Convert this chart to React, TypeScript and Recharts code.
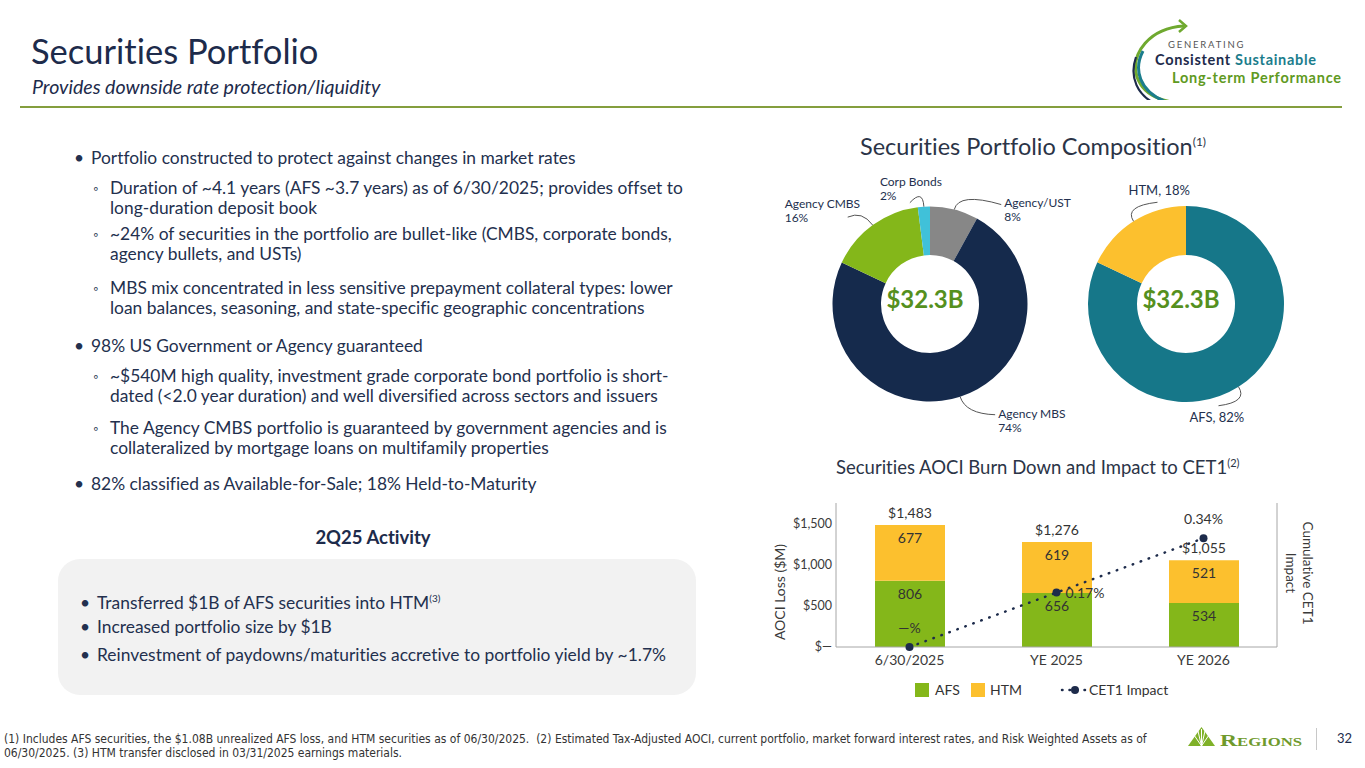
import React from 'react';
import { PieChart, Pie, Cell, Label, ComposedChart, Bar, Line, XAxis, YAxis, LabelList } from 'recharts';

// ---------- data ----------
const compNames = ['Agency/UST', 'Agency MBS', 'Agency CMBS', 'Corp Bonds'];
const compValues = [8, 74, 16, 2];
const compColors = ['#878787', '#152a4c', '#84b71a', '#40c1d9'];

const classNames = ['AFS', 'HTM'];
const classValues = [82, 18];
const classColors = ['#167789', '#fcc02e'];

const portfolioTotal = '$32.3B';

const periods = ['6/30/2025', 'YE 2025', 'YE 2026'];
const afsLoss = [806, 656, 534];
const htmLoss = [677, 619, 521];
const totalLoss = [1483, 1276, 1055];
const cet1Impact = [0, 0.17, 0.34];
const leftTicks = [0, 500, 1000, 1500];

const compData = compNames.map((n, i) => ({ name: n, value: compValues[i] }));
const classData = classNames.map((n, i) => ({ name: n, value: classValues[i] }));
const barData = periods.map((p, i) => ({ period: p, afs: afsLoss[i], htm: htmLoss[i], total: totalLoss[i], cet1: cet1Impact[i] }));

// ---------- style ----------
const NAVY = '#1d2b4b';
const TEXT = '#23304e';
const FONT = 'Lato, "Noto Sans", sans-serif';
const GREEN_TXT = '#55901e';
const NOLIG: React.CSSProperties = { fontVariantLigatures: 'none', fontFeatureSettings: '"liga" 0, "clig" 0' };

// label placement (relative to slice edge point) – layout only
const LABEL_LAYOUT: Record<string, { dx: number; dy: number; ax: number; ay: number }> = {
  'Agency/UST': { dx: 50, dy: -8, ax: -3, ay: 3 },
  'Agency MBS': { dx: 38, dy: 16, ax: -3, ay: 2 },
  'Agency CMBS': { dx: -88, dy: -22, ax: 63, ay: 14 },
  'Corp Bonds': { dx: -44, dy: -26, ax: 30, ay: 22 },
  HTM: { dx: -5, dy: -31, ax: 29, ay: 12 },
  AFS: { dx: -49, dy: 30, ax: 29, ay: -11 },
};

const RAD = Math.PI / 180;
const makePieLabel = (oneLine: boolean) => (props: any) => {
  const { cx, cy, midAngle, outerRadius } = props;
  const name = props.payload?.name ?? props.name;
  const value = props.payload?.value ?? props.value;
  const ux = Math.cos(-midAngle * RAD);
  const uy = Math.sin(-midAngle * RAD);
  const ex = cx + outerRadius * ux;
  const ey = cy + outerRadius * uy;
  const L = LABEL_LAYOUT[name];
  const tx = ex + L.dx;
  const ty = ey + L.dy;
  const px = tx + L.ax;
  const py = ty + L.ay;
  const qx = ex + ux * 18;
  const qy = ey + uy * 18;
  return (
    <g key={`lbl-${name}`}>
      <path d={`M${ex},${ey} Q${qx},${qy} ${px},${py}`} fill="none" stroke="#555" strokeWidth={1} />
      {oneLine ? (
        <text x={tx} y={ty} dominantBaseline="central" fontSize={13} fill={TEXT} fontFamily={FONT}>
          {`${name}, ${value}%`}
        </text>
      ) : (
        <text x={tx} y={ty} dominantBaseline="central" fontSize={12} fill={TEXT} fontFamily={FONT}>
          <tspan x={tx} dy={0}>{name}</tspan>
          <tspan x={tx} dy={14}>{`${value}%`}</tspan>
        </text>
      )}
    </g>
  );
};

const money = (v: number) => (v === 0 ? '$—' : '$' + v.toLocaleString('en-US'));

const CetLabel = (p: any) => {
  const { x, y, value, index } = p;
  const txt = value === 0 ? '—%' : `${Number(value).toFixed(2)}%`;
  if (index === 1) {
    return (
      <text x={x + 9} y={y} dominantBaseline="central" textAnchor="start" fontSize={14} fill="#333" fontFamily={FONT}>
        {txt}
      </text>
    );
  }
  return (
    <text x={x} y={y - 20} dominantBaseline="central" textAnchor="middle" fontSize={14} fill="#333" fontFamily={FONT}>
      {txt}
    </text>
  );
};

const T = ({ x, y, size = 17, color = TEXT, weight = 400, italic = false, anchor = 'start', family = FONT, children }: any) => (
  <div
    style={{
      position: 'absolute',
      left: x,
      top: y,
      transform: anchor === 'middle' ? 'translate(-50%,-50%)' : 'translateY(-50%)',
      whiteSpace: 'nowrap',
      fontSize: size,
      color,
      fontWeight: weight,
      fontStyle: italic ? 'italic' : 'normal',
      fontFamily: family,
      lineHeight: 1.2,
    }}
  >
    {children}
  </div>
);

const mainBullets: { y: number; lines: string[]; level: number }[] = [
  { y: 158, lines: ['Portfolio constructed to protect against changes in market rates'], level: 0 },
  { y: 188, lines: ['Duration of  ~4.1 years (AFS ~3.7 years) as of 6/30/2025; provides offset to', 'long-duration deposit book'], level: 1 },
  { y: 234, lines: ['~24% of securities in the portfolio are bullet-like (CMBS, corporate bonds,', 'agency bullets, and USTs)'], level: 1 },
  { y: 288, lines: ['MBS mix concentrated in less sensitive prepayment collateral types: lower', 'loan balances, seasoning, and state-specific geographic concentrations'], level: 1 },
  { y: 346, lines: ['98% US Government or Agency guaranteed'], level: 0 },
  { y: 376, lines: ['~$540M high quality, investment grade corporate bond portfolio is short-', 'dated (<2.0 year duration) and well diversified across sectors and issuers'], level: 1 },
  { y: 428, lines: ['The Agency CMBS portfolio is guaranteed by government agencies and is', 'collateralized by mortgage loans on multifamily properties'], level: 1 },
  { y: 484, lines: ['82% classified as Available-for-Sale; 18% Held-to-Maturity'], level: 0 },
];

const BODY = 17.4;
const FOOT_FONT = '"Liberation Sans Narrow", "DejaVu Sans Condensed", Lato, sans-serif';

export default function App() {
  return (
    <div style={{ position: 'absolute', left: 0, top: 0, width: 1365, height: 768, background: '#fff', overflow: 'hidden', fontFamily: FONT, ...NOLIG }}>
      {/* Header */}
      <T x={31} y={51} size={34.5} color={NAVY}>Securities Portfolio</T>
      <T x={32} y={87} size={19.6} color={NAVY} italic>Provides downside rate protection/liquidity</T>
      <div style={{ position: 'absolute', left: 20, top: 106, width: 1322, height: 2, background: '#849e3d' }} />

      {/* Logo */}
      <svg style={{ position: 'absolute', left: 1120, top: 15 }} width={240} height={85}>
        <path d="M 64 11 C 30 13, 10 38, 17 62 C 22 76, 34 84, 52 87" fill="none" stroke="#6fa92f" strokeWidth={3} />
        <path d="M 59 5 L 66 11 L 59 17" fill="none" stroke="#6fa92f" strokeWidth={2.5} />
        <path d="M 23 36 C 13 55, 20 76, 44 86" fill="none" stroke="#1b7d8c" strokeWidth={3} />
        <path d="M 16 42 C 9 62, 17 81, 38 90" fill="none" stroke={NAVY} strokeWidth={2.2} />
        <text x={48} y={29} fontSize={9.5} letterSpacing={1.8} fill="#555" fontFamily={FONT} dominantBaseline="central">GENERATING</text>
        <text x={35} y={44} fontSize={14.5} fontWeight={700} fontFamily={FONT} dominantBaseline="central" textLength={161} lengthAdjust="spacing">
          <tspan fill={NAVY}>Consistent </tspan>
          <tspan fill="#1b7d8c">Sustainable</tspan>
        </text>
        <text x={52} y={62} fontSize={14.5} fontWeight={700} fill="#5f9a22" fontFamily={FONT} dominantBaseline="central" textLength={169} lengthAdjust="spacing">Long-term Performance</text>
      </svg>

      {/* Left bullets */}
      {mainBullets.map((b, i) => (
        <React.Fragment key={i}>
          <T x={b.level === 0 ? 74 : 93} y={b.y} size={b.level === 0 ? BODY : 12.5}>{b.level === 0 ? '•' : '◦'}</T>
          {b.lines.map((ln, j) => (
            <T key={j} x={b.level === 0 ? 91 : 110} y={b.y + j * 20} size={BODY}>{ln}</T>
          ))}
        </React.Fragment>
      ))}

      <T x={373} y={537} size={18.5} weight={700} color={NAVY} anchor="middle">2Q25 Activity</T>
      <div style={{ position: 'absolute', left: 58, top: 559, width: 638, height: 136, borderRadius: 22, background: '#f2f2f2' }} />
      <T x={80} y={603} size={BODY}>•</T>
      <T x={97} y={603} size={BODY}>Transferred $1B of AFS securities into HTM<sup style={{ fontSize: 10 }}>(3)</sup></T>
      <T x={80} y={627} size={BODY}>•</T>
      <T x={97} y={627} size={BODY}>Increased portfolio size by $1B</T>
      <T x={80} y={655} size={BODY}>•</T>
      <T x={97} y={655} size={BODY}>Reinvestment of paydowns/maturities accretive to portfolio yield by ~1.7%</T>

      {/* Composition title */}
      <T x={860} y={146} size={23.5} color="#2b3447">Securities Portfolio Composition<sup style={{ fontSize: 12 }}>(1)</sup></T>

      {/* Pie 1 */}
      <div style={{ position: 'absolute', left: 760, top: 159 }}>
        <PieChart width={330} height={280}>
          <Pie
            data={compData}
            dataKey="value"
            nameKey="name"
            cx={165}
            cy={140}
            innerRadius={49}
            outerRadius={97.5}
            startAngle={90}
            endAngle={-270}
            stroke="none"
            isAnimationActive={false}
            label={makePieLabel(false)}
            labelLine={false}
          >
            {compData.map((d, i) => (
              <Cell key={d.name} fill={compColors[i]} />
            ))}
            <Label value={portfolioTotal} position="center" fill={GREEN_TXT} fontSize={24} fontWeight={700} fontFamily={FONT} />
          </Pie>
        </PieChart>
      </div>

      {/* Pie 2 */}
      <div style={{ position: 'absolute', left: 1041, top: 159 }}>
        <PieChart width={280} height={280}>
          <Pie
            data={classData}
            dataKey="value"
            nameKey="name"
            cx={140}
            cy={140}
            innerRadius={49}
            outerRadius={98}
            startAngle={90}
            endAngle={-270}
            stroke="none"
            isAnimationActive={false}
            label={makePieLabel(true)}
            labelLine={false}
          >
            {classData.map((d, i) => (
              <Cell key={d.name} fill={classColors[i]} />
            ))}
            <Label value={portfolioTotal} position="center" fill={GREEN_TXT} fontSize={24} fontWeight={700} fontFamily={FONT} />
          </Pie>
        </PieChart>
      </div>

      {/* Bar chart title */}
      <T x={836} y={467} size={18.5} color="#2b3447">Securities AOCI Burn Down and Impact to CET1<sup style={{ fontSize: 11 }}>(2)</sup></T>

      <div style={{ position: 'absolute', left: 770, top: 490 }}>
        <ComposedChart width={560} height={190} data={barData} margin={{ top: 13, right: 0, bottom: 0, left: 0 }}>
          <XAxis
            dataKey="period"
            height={33}
            tickLine={false}
            axisLine={{ stroke: '#a6a6a6' }}
            tick={{ fontSize: 14, fill: '#3a3a3a', fontFamily: FONT }}
          />
          <YAxis
            yAxisId="left"
            width={66}
            domain={[0, 1750]}
            ticks={leftTicks}
            tickFormatter={money}
            tickLine={false}
            tickSize={4}
            tickMargin={0}
            axisLine={{ stroke: '#a6a6a6' }}
            tick={{ fontSize: 12.5, fill: '#3a3a3a', fontFamily: FONT }}
          />
          <YAxis yAxisId="right" orientation="right" width={53} domain={[0, 0.45]} tick={false} tickLine={false} axisLine={{ stroke: '#a6a6a6' }} />
          <Bar yAxisId="left" dataKey="afs" stackId="a" fill="#84b71a" barSize={70} isAnimationActive={false}>
            <LabelList dataKey="afs" position="insideTop" offset={8} fontSize={14} fill="#333" fontFamily={FONT} />
          </Bar>
          <Bar yAxisId="left" dataKey="htm" stackId="a" fill="#fcc02e" barSize={70} isAnimationActive={false}>
            <LabelList dataKey="htm" position="insideTop" offset={8} fontSize={14} fill="#333" fontFamily={FONT} />
            <LabelList dataKey="total" position="top" offset={7} fontSize={14} fill="#333" fontFamily={FONT} formatter={(v: any) => money(Number(v))} />
          </Bar>
          <Line
            yAxisId="right"
            dataKey="cet1"
            stroke={NAVY}
            strokeWidth={2.5}
            strokeDasharray="0.5 8"
            strokeLinecap="round"
            dot={{ r: 4, fill: NAVY, stroke: 'none' }}
            activeDot={false}
            isAnimationActive={false}
          >
            <LabelList dataKey="cet1" content={CetLabel} />
          </Line>
        </ComposedChart>
      </div>

      {/* axis titles */}
      <div style={{ position: 'absolute', left: 779, top: 592, transform: 'translate(-50%,-50%) rotate(-90deg)', whiteSpace: 'nowrap', fontSize: 14, color: '#3a3a3a', fontFamily: FONT }}>
        AOCI Loss ($M)
      </div>
      <div style={{ position: 'absolute', left: 1299, top: 573, transform: 'translate(-50%,-50%) rotate(90deg)', whiteSpace: 'nowrap', fontSize: 13.5, lineHeight: '17px', textAlign: 'center', color: '#3a3a3a', fontFamily: FONT }}>
        Cumulative CET1<br />Impact
      </div>

      {/* legend */}
      <div style={{ position: 'absolute', left: 915, top: 683, width: 14, height: 14, background: '#84b71a' }} />
      <T x={935} y={690} size={14} color="#333">AFS</T>
      <div style={{ position: 'absolute', left: 971, top: 683, width: 14, height: 14, background: '#fcc02e' }} />
      <T x={990} y={690} size={14} color="#333">HTM</T>
      <svg style={{ position: 'absolute', left: 1060, top: 682 }} width={30} height={16}>
        <line x1={2} y1={8} x2={28} y2={8} stroke={NAVY} strokeWidth={2.5} strokeDasharray="0.5 7" strokeLinecap="round" />
        <circle cx={15} cy={8} r={4} fill={NAVY} />
      </svg>
      <T x={1089} y={690} size={14} color="#333">CET1 Impact</T>

      {/* footnote */}
      <T x={4} y={739} size={12} color="#333" family={FOOT_FONT}>
        (1) Includes AFS securities, the $1.08B unrealized AFS loss, and HTM securities as of 06/30/2025.&nbsp; (2) Estimated Tax-Adjusted AOCI, current portfolio, market forward interest rates, and Risk Weighted Assets as of
      </T>
      <T x={4} y={753} size={12} color="#333" family={FOOT_FONT}>
        06/30/2025. (3) HTM transfer disclosed in 03/31/2025 earnings materials.
      </T>

      {/* Regions logo */}
      <svg style={{ position: 'absolute', left: 1180, top: 722 }} width={185} height={34}>
        <polygon points="8,24 21.5,5 35,24" fill="#7fb128" />
        <path d="M21.5 24 L14 13 M21.5 24 L18 9 M21.5 24 L21.5 7 M21.5 24 L25 9 M21.5 24 L29 13" stroke="#fff" strokeWidth={1} />
        <text x={40} y={24} fontSize={17} fontWeight={700} fill="#6f9a2c" fontFamily='"Liberation Serif", "DejaVu Serif", serif' style={{ fontVariant: 'small-caps' }} textLength={82} lengthAdjust="spacingAndGlyphs">
          Regions
        </text>
        <line x1={136.5} y1={6} x2={136.5} y2={28} stroke="#c8c8c8" strokeWidth={1} />
      </svg>
      <T x={1337} y={739} size={13} color={NAVY}>32</T>
    </div>
  );
}
